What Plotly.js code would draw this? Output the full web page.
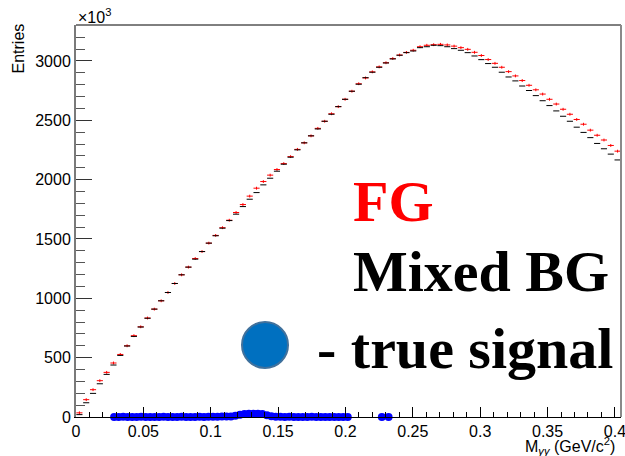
<!DOCTYPE html>
<html>
<head>
<meta charset="utf-8">
<script src="https://cdn.plot.ly/plotly-3.0.1.min.js"></script>
<style>html,body{margin:0;padding:0;background:#fff;}#chart{width:625px;height:456px;}</style>
</head>
<body>
<div id="chart"></div>
<script>
// ---- data ----
const binLow = 0;
const binHigh = 0.4045;
const nBins = 80;

const fgCounts = [35,146,230,306,376,455,527,600,685,760,
  834,909,979,1049,1125,1198,1263,1335,1394,1465,
  1530,1595,1658,1723,1790,1861,1928,1984,2038,2085,
  2135,2194,2255,2310,2369,2432,2492,2555,2615,2677,
  2745,2808,2857,2908,2950,2985,3020,3050,3072,3090,
  3120,3132,3137,3140,3135,3125,3112,3098,3073,3046,
  3012,2980,2947,2910,2874,2835,2795,2757,2721,2677,
  2637,2593,2551,2507,2467,2417,2374,2334,2288,2240];

const bgCounts = [20,120,199,280,359,438,519,598,679,758,
  832,909,979,1049,1125,1198,1263,1330,1394,1465,
  1527,1591,1655,1709,1773,1835,1891,1956,2012,2071,
  2130,2189,2251,2310,2369,2427,2492,2551,2615,2677,
  2745,2804,2859,2905,2947,2983,3017,3048,3070,3084,
  3112,3120,3132,3129,3120,3104,3090,3070,3042,3011,
  2978,2947,2905,2865,2832,2789,2751,2708,2665,2624,
  2579,2534,2492,2442,2398,2354,2305,2260,2215,2166];

const sigX = [0.0283,0.0317,0.0350,0.0383,0.0417,0.0450,0.0483,0.0517,0.0550,0.0583,
  0.0617,0.0650,0.0683,0.0717,0.0750,0.0783,0.0817,0.0850,0.0883,0.0917,
  0.0950,0.0983,0.1017,0.1050,0.1083,0.1117,0.1150,0.1183,0.1217,0.1250,
  0.1283,0.1317,0.1350,0.1383,0.1417,0.1450,0.1483,0.1517,0.1550,0.1583,
  0.1617,0.1650,0.1683,0.1717,0.1750,0.1783,0.1817,0.1850,0.1883,0.1917,
  0.1950,0.1983,0.2017,0.2270,0.2320];

const sigY = [1,0,2,1,0,1,2,0,1,1,
  0,2,1,0,1,2,1,0,1,2,
  1,2,3,3,4,4,5,10,18,25,
  28,27,28,25,14,6,3,2,1,2,
  0,1,1,0,2,1,0,1,1,0,
  1,0,0,1,0];

const xTickVals = [0,0.05,0.1,0.15,0.2,0.25,0.3,0.35,0.4];
const xTickText = ['0','0.05','0.1','0.15','0.2','0.25','0.3','0.35','0.4'];
const yTickVals = [0,500,1000,1500,2000,2500,3000];
const yTickText = ['0','500','1000','1500','2000','2500','3000'];

// ---- build ----
const binW = (binHigh - binLow) / nBins;
const binCenters = fgCounts.map((_, i) => binLow + (i + 0.5) * binW);

const fgTrace = {
  type: 'scatter', mode: 'markers', x: binCenters, y: fgCounts,
  marker: {size: 1, color: 'rgba(0,0,0,0)'},
  error_x: {type: 'constant', value: binW / 2 * 0.9, width: 0, thickness: 1, color: 'red'},
  error_y: {type: 'constant', value: 12, width: 0, thickness: 1, color: 'red'},
  hoverinfo: 'skip'
};
const bgTrace = {
  type: 'scatter', mode: 'markers', x: binCenters, y: bgCounts,
  marker: {size: 1, color: 'rgba(0,0,0,0)'},
  error_x: {type: 'constant', value: binW / 2 * 0.9, width: 0, thickness: 1, color: 'black'},
  hoverinfo: 'skip'
};
const sigTrace = {
  type: 'scatter', mode: 'markers', x: sigX, y: sigY, cliponaxis: false,
  marker: {size: 8, color: '#0000ff', line: {width: 0}},
  hoverinfo: 'skip'
};

const serif = 'Liberation Serif, Times New Roman, serif';
const layout = {
  width: 625, height: 456,
  margin: {l: 76, r: 4, t: 25, b: 39, pad: 0},
  paper_bgcolor: 'white', plot_bgcolor: 'white',
  showlegend: false,
  font: {family: 'Liberation Sans, Arial, sans-serif', size: 16, color: 'black'},
  xaxis: {
    range: [0, 0.4045], tickmode: 'array', tickvals: xTickVals, ticktext: xTickText,
    ticks: 'inside', ticklen: 10, tickwidth: 1, tickcolor: 'black', ticklabeloverflow: 'allow',
    showgrid: false, zeroline: false, showline: true, linecolor: 'black', linewidth: 1,
    minor: {tickmode: 'linear', tick0: 0, dtick: 0.01, ticks: 'inside', ticklen: 5, tickcolor: 'black', showgrid: false},
    tickfont: {size: 16}
  },
  yaxis: {
    range: [0, 3303], tickmode: 'array', tickvals: yTickVals, ticktext: yTickText,
    ticks: 'inside', ticklen: 16, tickwidth: 1, tickcolor: '#333',
    showgrid: false, zeroline: false, showline: true, linecolor: '#7a7a7a', linewidth: 2,
    minor: {tickmode: 'linear', tick0: 0, dtick: 100, ticks: 'inside', ticklen: 9, tickcolor: '#555', showgrid: false},
    tickfont: {size: 16}
  },
  shapes: [
    {type: 'line', xref: 'paper', yref: 'paper', x0: 0, x1: 1, y0: 1, y1: 1, line: {color: 'black', width: 1}},
    {type: 'line', xref: 'paper', yref: 'paper', x0: 1, x1: 1, y0: 0, y1: 1, line: {color: '#8a8a8a', width: 2}},
    {type: 'circle', xref: 'paper', yref: 'paper', x0: 0.3046, x1: 0.389, y0: 0.125, y1: 0.2423,
     fillcolor: 'rgb(0,112,192)', line: {color: 'rgb(65,113,156)', width: 2}}
  ],
  annotations: [
    {xref: 'paper', yref: 'paper', x: 0, y: 0.992, xanchor: 'left', yanchor: 'bottom', showarrow: false,
     text: '×10<sup>3</sup>', font: {size: 16}},
    {xref: 'paper', yref: 'paper', x: -0.1055, y: 0.9388, xanchor: 'center', yanchor: 'middle', showarrow: false,
     textangle: -90, text: 'Entries', font: {size: 16}},
    {xref: 'paper', yref: 'paper', x: 0.9927, y: -0.042, xanchor: 'right', yanchor: 'top', showarrow: false,
     text: 'M<sub><i>γγ</i></sub> (GeV/c<sup>2</sup>)', font: {size: 16}},
    {xref: 'paper', yref: 'paper', x: 0.504, y: 0.5485, xanchor: 'left', yanchor: 'middle', showarrow: false,
     text: 'FG', font: {family: serif, size: 58, color: 'red', weight: 'bold'}},
    {xref: 'paper', yref: 'paper', x: 0.504, y: 0.370, xanchor: 'left', yanchor: 'middle', showarrow: false,
     text: 'Mixed BG', font: {family: serif, size: 58, color: 'black', weight: 'bold'}},
    {xref: 'paper', yref: 'paper', x: 0.438, y: 0.176, xanchor: 'left', yanchor: 'middle', showarrow: false,
     text: '- true signal', font: {family: serif, size: 58, color: 'black', weight: 'bold'}}
  ]
};

Plotly.newPlot('chart', [fgTrace, bgTrace, sigTrace], layout, {displayModeBar: false, staticPlot: true});
</script>
</body>
</html>
